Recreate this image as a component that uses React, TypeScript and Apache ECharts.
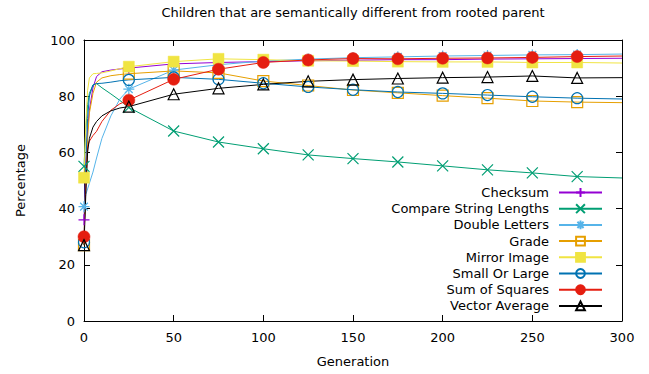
import React, { useEffect, useRef } from "react";
import * as echarts from "echarts";

const title = "Children that are semantically different from rooted parent";
const xAxisName = "Generation";
const yAxisName = "Percentage";

const generations = [0, 1, 2, 3, 5, 7, 10, 15, 20, 25, 50, 75, 100, 125, 150, 175, 200, 225, 250, 275, 300];

const seriesNames = [
  "Checksum",
  "Compare String Lengths",
  "Double Letters",
  "Grade",
  "Mirror Image",
  "Small Or Large",
  "Sum of Squares",
  "Vector Average",
];

const checksum = [36, 55, 68, 75, 83, 87, 88.7, 89.3, 89.7, 90, 91.5, 92, 92.3, 92.6, 92.8, 93, 93, 93.2, 93.3, 93.4, 93.5];
const compareStringLengths = [55, 68, 77, 81, 84, 84.5, 83, 80.8, 78.5, 76, 67.6, 63.7, 61.3, 59.1, 57.8, 56.6, 55.2, 53.8, 52.7, 51.4, 50.9];
const doubleLetters = [40.7, 45, 47, 49, 53, 58, 65, 73, 79, 82.5, 89.3, 91.2, 92.5, 93.2, 93.7, 94, 94.3, 94.5, 94.7, 94.8, 95];
const grade = [27, 50, 65, 74, 81, 85, 86.5, 87.3, 87.7, 88, 89, 88.3, 85.4, 83.8, 82.2, 81.2, 80.2, 79.3, 78.3, 77.9, 77.7];
const mirrorImage = [51, 70, 82, 86.5, 88, 88.1, 88.3, 89, 89.8, 90.5, 92.3, 93.3, 93, 92.6, 92.5, 92.3, 92.2, 92.2, 92, 92, 91.8];
const smallOrLarge = [28, 55, 72, 80, 84, 84.5, 84.6, 85, 85.5, 85.8, 86.7, 86, 84.6, 83.3, 82.3, 81.5, 81, 80.4, 79.8, 79.3, 79];
const sumOfSquares = [30, 48, 62, 64, 66, 67.5, 71, 75, 77.3, 78.6, 86, 89.6, 92, 92.9, 93.4, 93.3, 93.5, 93.6, 93.8, 94.1, 94.3];
const vectorAverage = [27, 45, 60, 65, 69, 71, 73, 74.8, 75.8, 76.3, 80.7, 82.8, 84.2, 85.3, 85.9, 86.3, 86.6, 86.8, 87.2, 86.5, 86.6];

const seriesValues = [checksum, compareStringLengths, doubleLetters, grade, mirrorImage, smallOrLarge, sumOfSquares, vectorAverage];

const colors = ["#9400d3", "#009e73", "#56b4e9", "#e69f00", "#f0e442", "#0072b2", "#e51e10", "#000000"];

const PLUS = "path://M0,6L12,6M6,0L6,12";
const CROSS = "path://M0,0L12,12M12,0L0,12";
const STAR = "path://M0,6L12,6M6,0L6,12M1.8,1.8L10.2,10.2M10.2,1.8L1.8,10.2";
const symbols = [PLUS, CROSS, STAR, "rect", "rect", "circle", "circle", "triangle"];
const hollow = [true, true, true, true, false, true, false, true];
const symbolSizes = [11, 11, 11, 11, 11, 11, 12, 11];

const FONT = "DejaVu Sans";

export default function App() {
  const ref = useRef<HTMLDivElement>(null);
  useEffect(() => {
    if (!ref.current) return;
    const chart = echarts.init(ref.current, undefined, { renderer: "svg" });
    const frameAxis = {
      type: "value",
      min: 0,
      axisLine: { show: true, onZero: false, lineStyle: { color: "#000", width: 1 } },
      axisTick: { show: true, inside: true, length: 6, lineStyle: { color: "#000" } },
      splitLine: { show: false },
    };
    const series = seriesNames.map((name, i) => ({
      name,
      type: "line",
      xAxisIndex: 0,
      yAxisIndex: 0,
      symbol: symbols[i],
      symbolSize: symbolSizes[i],
      showSymbol: true,
      showAllSymbol: true,
      lineStyle: { color: colors[i], width: 1 },
      itemStyle: {
        color: hollow[i] ? "rgba(255,255,255,0)" : colors[i],
        borderColor: colors[i],
        borderWidth: hollow[i] ? 1.2 : 0.5,
      },
      emphasis: { disabled: true },
      data: generations.map((g, k) => {
        const item: any = { value: [g, seriesValues[i][k]] };
        if (!(g % 25 === 0 && g < 300)) item.symbol = "none";
        return item;
      }),
    }));
    chart.setOption({
      animation: false,
      title: {
        text: title,
        left: 353,
        textAlign: "center",
        top: 6,
        padding: 0,
        textStyle: { fontFamily: FONT, fontSize: 13, fontWeight: "normal", color: "#000" },
      },
      grid: { left: 84, right: 27, top: 40, bottom: 53, containLabel: false },
      legend: {
        orient: "vertical",
        align: "right",
        right: 41,
        top: 181,
        itemWidth: 43,
        itemHeight: 11,
        itemGap: 3.2,
        textStyle: { fontFamily: FONT, fontSize: 13, color: "#000", padding: [0, 5, 0, 0] },
        data: seriesNames,
      },
      xAxis: [
        {
          ...frameAxis,
          position: "bottom",
          max: 300,
          interval: 50,
          name: xAxisName,
          nameLocation: "middle",
          nameGap: 34,
          nameTextStyle: { fontFamily: FONT, fontSize: 13, color: "#000" },
          axisLabel: { show: true, margin: 10, fontFamily: FONT, fontSize: 13, color: "#000" },
        },
        {
          ...frameAxis,
          position: "top",
          max: 300,
          interval: 50,
          axisLabel: { show: false },
        },
      ],
      yAxis: [
        {
          ...frameAxis,
          position: "left",
          max: 100,
          interval: 20,
          name: yAxisName,
          nameLocation: "middle",
          nameGap: 57,
          nameTextStyle: { fontFamily: FONT, fontSize: 13, color: "#000" },
          axisLabel: { show: true, margin: 9, fontFamily: FONT, fontSize: 13, color: "#000" },
        },
        {
          ...frameAxis,
          position: "right",
          max: 100,
          interval: 20,
          axisLabel: { show: false },
        },
      ],
      series,
    });
    return () => chart.dispose();
  }, []);
  return (
    <div
      ref={ref}
      style={{ position: "fixed", left: 0, top: 0, width: 649, height: 374, background: "#fff" }}
    />
  );
}
